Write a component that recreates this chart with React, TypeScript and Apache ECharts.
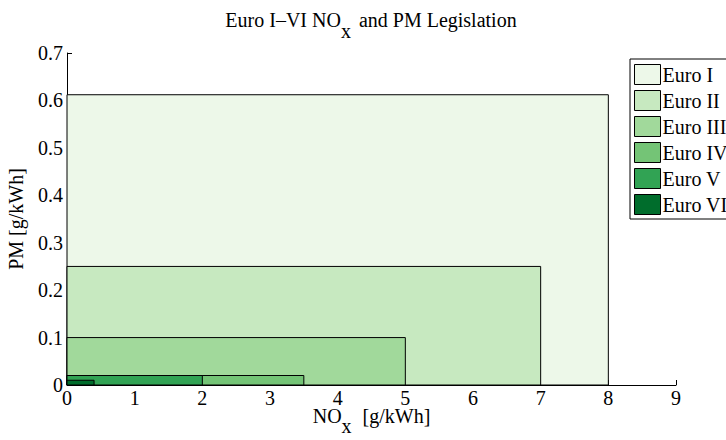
import React, { useEffect, useRef } from 'react';
import * as echarts from 'echarts';

const standards = ['Euro I', 'Euro II', 'Euro III', 'Euro IV', 'Euro V', 'Euro VI'];
const noxLimits = [8, 7, 5, 3.5, 2, 0.4];
const pmLimits = [0.612, 0.25, 0.1, 0.02, 0.02, 0.01];
const colors = ['#edf8e9', '#c7e9c0', '#a1d99b', '#74c476', '#31a354', '#006d2c'];
const xMin = 0, xMax = 9, xStep = 1;
const yMin = 0, yMax = 0.7, yStep = 0.1;

const FONT = "'Liberation Serif', 'Times New Roman', serif";

export default function App() {
  const ref = useRef<HTMLDivElement>(null);
  useEffect(() => {
    if (!ref.current) return;
    const chart = echarts.init(ref.current, null, { renderer: 'svg' });
    const series = standards.map((name, i) => ({
      type: 'custom',
      name,
      itemStyle: { color: colors[i] },
      data: [[noxLimits[i], pmLimits[i]]],
      encode: { x: 0, y: 1 },
      renderItem: (params: any, api: any) => {
        const origin = api.coord([0, 0]);
        const corner = api.coord([api.value(0), api.value(1)]);
        return {
          type: 'rect',
          shape: {
            x: origin[0],
            y: corner[1],
            width: corner[0] - origin[0],
            height: origin[1] - corner[1],
          },
          style: { fill: api.visual('color'), stroke: '#000', lineWidth: 1 },
        };
      },
    }));
    const axisCommon = {
      type: 'value',
      axisLine: { show: true, lineStyle: { color: '#000', width: 1 } },
      axisTick: { show: true, inside: true, length: 5, lineStyle: { color: '#000' } },
      splitLine: { show: false },
      axisLabel: { color: '#000', fontSize: 20, fontFamily: FONT },
      nameLocation: 'middle',
      nameMoveOverlap: false,
    };
    chart.setOption({
      animation: false,
      grid: { left: 67, right: 50, top: 53, bottom: 55, containLabel: false, outerBoundsMode: 'none' },
      graphic: [
        {
          type: 'text',
          x: 371,
          y: 10,
          style: {
            text: '{n|Euro I–VI NO}{s|x}{n| and PM Legislation}',
            align: 'center',
            verticalAlign: 'top',
            rich: {
              n: { fontSize: 20, fontFamily: FONT, fill: '#000', lineHeight: 20, verticalAlign: 'top' },
              s: { fontSize: 20, fontFamily: FONT, fill: '#000', lineHeight: 20, verticalAlign: 'top', padding: [11, 3, 0, 0] },
            },
          },
        },
      ],
      xAxis: {
        ...axisCommon,
        min: xMin,
        max: xMax,
        interval: xStep,
        axisLabel: { ...axisCommon.axisLabel, margin: 6, lineHeight: 14 },
        name: '{n|NO}{s|x}{n| [g/kWh]}',
        nameGap: 21,
        nameTextStyle: {
          rich: {
            n: { fontSize: 20, fontFamily: FONT, color: '#000', lineHeight: 20, verticalAlign: 'top' },
            s: { fontSize: 20, fontFamily: FONT, color: '#000', lineHeight: 20, verticalAlign: 'top', padding: [10, 6, 0, 0] },
          },
        },
      },
      yAxis: {
        ...axisCommon,
        min: yMin,
        max: yMax,
        interval: yStep,
        axisLabel: { ...axisCommon.axisLabel, margin: 4 },
        name: 'PM [g/kWh]',
        nameGap: 41,
        nameTextStyle: { fontSize: 20, fontFamily: FONT, color: '#000' },
      },
      legend: {
        orient: 'vertical',
        left: 630,
        top: 59,
        padding: [5, 40, 4, 4],
        itemWidth: 26,
        itemHeight: 20,
        itemGap: 5,
        borderColor: '#000',
        borderWidth: 1,
        backgroundColor: '#fff',
        icon: 'rect',
        itemStyle: { borderColor: '#000', borderWidth: 1 },
        textStyle: { fontSize: 20, lineHeight: 20, fontFamily: FONT, color: '#000', padding: [0, 0, 0, -3] },
        data: standards,
      },
      series,
    } as any);
    return () => chart.dispose();
  }, []);
  return (
    <div
      ref={ref}
      style={{ position: 'absolute', left: 0, top: 0, width: 726, height: 440, background: '#fff' }}
    />
  );
}
